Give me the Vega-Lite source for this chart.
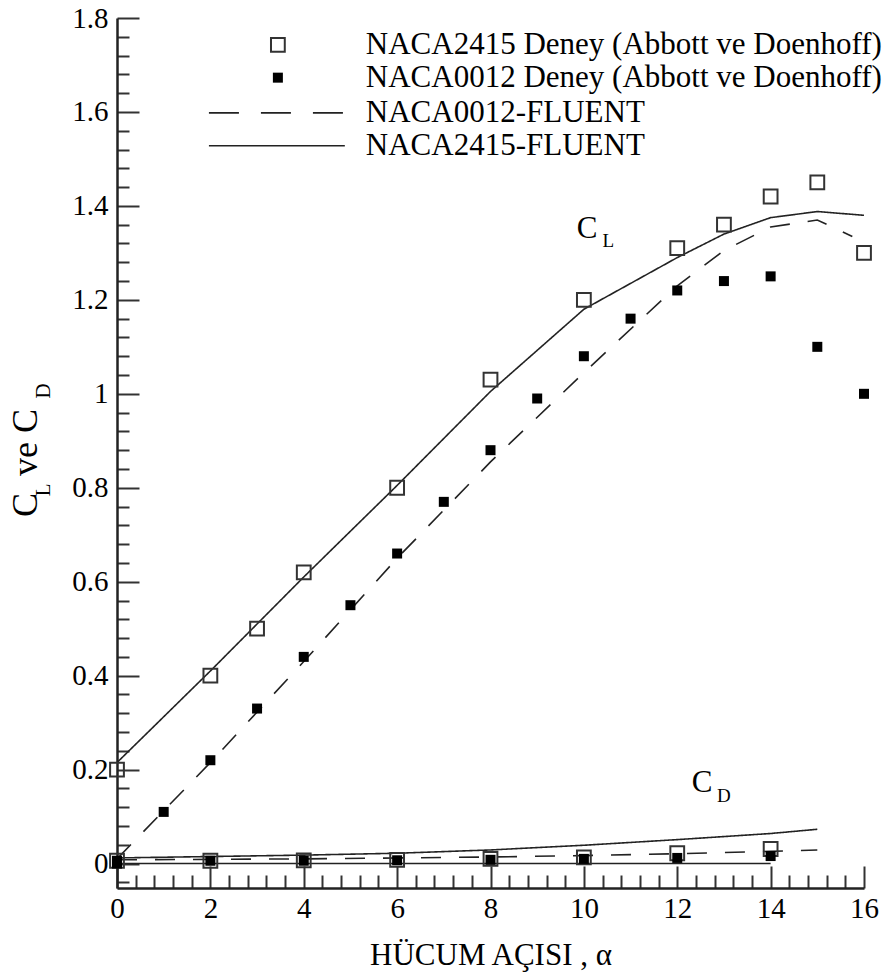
{
  "$schema": "https://vega.github.io/schema/vega-lite/v6.json",
  "width": 747,
  "height": 870,
  "autosize": {"type": "none"},
  "padding": {"left": 117, "top": 18, "right": 21, "bottom": 92},
  "background": "white",
  "config": {
    "view": {"stroke": null},
    "font": "Liberation Serif",
    "axis": {"labelFont": "Liberation Serif", "titleFont": "Liberation Serif"},
    "text": {"font": "Liberation Serif"}
  },
  "datasets": {
    "exp": [
      {"series": "NACA2415 Deney", "coef": "CL", "a": 0, "v": 0.2},
      {"series": "NACA2415 Deney", "coef": "CL", "a": 2, "v": 0.4},
      {"series": "NACA2415 Deney", "coef": "CL", "a": 3, "v": 0.5},
      {"series": "NACA2415 Deney", "coef": "CL", "a": 4, "v": 0.62},
      {"series": "NACA2415 Deney", "coef": "CL", "a": 6, "v": 0.8},
      {"series": "NACA2415 Deney", "coef": "CL", "a": 8, "v": 1.03},
      {"series": "NACA2415 Deney", "coef": "CL", "a": 10, "v": 1.2},
      {"series": "NACA2415 Deney", "coef": "CL", "a": 12, "v": 1.31},
      {"series": "NACA2415 Deney", "coef": "CL", "a": 13, "v": 1.36},
      {"series": "NACA2415 Deney", "coef": "CL", "a": 14, "v": 1.42},
      {"series": "NACA2415 Deney", "coef": "CL", "a": 15, "v": 1.45},
      {"series": "NACA2415 Deney", "coef": "CL", "a": 16, "v": 1.3},
      {"series": "NACA2415 Deney", "coef": "CD", "a": 0, "v": 0.006},
      {"series": "NACA2415 Deney", "coef": "CD", "a": 2, "v": 0.006},
      {"series": "NACA2415 Deney", "coef": "CD", "a": 4, "v": 0.007},
      {"series": "NACA2415 Deney", "coef": "CD", "a": 6, "v": 0.008},
      {"series": "NACA2415 Deney", "coef": "CD", "a": 8, "v": 0.01},
      {"series": "NACA2415 Deney", "coef": "CD", "a": 10, "v": 0.013},
      {"series": "NACA2415 Deney", "coef": "CD", "a": 12, "v": 0.022},
      {"series": "NACA2415 Deney", "coef": "CD", "a": 14, "v": 0.031},
      {"series": "NACA0012 Deney", "coef": "CL", "a": 0, "v": 0.0},
      {"series": "NACA0012 Deney", "coef": "CL", "a": 1, "v": 0.11},
      {"series": "NACA0012 Deney", "coef": "CL", "a": 2, "v": 0.22},
      {"series": "NACA0012 Deney", "coef": "CL", "a": 3, "v": 0.33},
      {"series": "NACA0012 Deney", "coef": "CL", "a": 4, "v": 0.44},
      {"series": "NACA0012 Deney", "coef": "CL", "a": 5, "v": 0.55},
      {"series": "NACA0012 Deney", "coef": "CL", "a": 6, "v": 0.66},
      {"series": "NACA0012 Deney", "coef": "CL", "a": 7, "v": 0.77},
      {"series": "NACA0012 Deney", "coef": "CL", "a": 8, "v": 0.88},
      {"series": "NACA0012 Deney", "coef": "CL", "a": 9, "v": 0.99},
      {"series": "NACA0012 Deney", "coef": "CL", "a": 10, "v": 1.08},
      {"series": "NACA0012 Deney", "coef": "CL", "a": 11, "v": 1.16},
      {"series": "NACA0012 Deney", "coef": "CL", "a": 12, "v": 1.22},
      {"series": "NACA0012 Deney", "coef": "CL", "a": 13, "v": 1.24},
      {"series": "NACA0012 Deney", "coef": "CL", "a": 14, "v": 1.25},
      {"series": "NACA0012 Deney", "coef": "CL", "a": 15, "v": 1.1},
      {"series": "NACA0012 Deney", "coef": "CL", "a": 16, "v": 1.0},
      {"series": "NACA0012 Deney", "coef": "CD", "a": 0, "v": 0.006},
      {"series": "NACA0012 Deney", "coef": "CD", "a": 2, "v": 0.006},
      {"series": "NACA0012 Deney", "coef": "CD", "a": 4, "v": 0.006},
      {"series": "NACA0012 Deney", "coef": "CD", "a": 6, "v": 0.007},
      {"series": "NACA0012 Deney", "coef": "CD", "a": 8, "v": 0.008},
      {"series": "NACA0012 Deney", "coef": "CD", "a": 10, "v": 0.01},
      {"series": "NACA0012 Deney", "coef": "CD", "a": 12, "v": 0.012},
      {"series": "NACA0012 Deney", "coef": "CD", "a": 14, "v": 0.016}
    ],
    "fluent": [
      {"series": "NACA2415-FLUENT", "coef": "CL", "a": 0, "v": 0.215},
      {"series": "NACA2415-FLUENT", "coef": "CL", "a": 2, "v": 0.41},
      {"series": "NACA2415-FLUENT", "coef": "CL", "a": 4, "v": 0.61},
      {"series": "NACA2415-FLUENT", "coef": "CL", "a": 6, "v": 0.805},
      {"series": "NACA2415-FLUENT", "coef": "CL", "a": 8, "v": 1.005},
      {"series": "NACA2415-FLUENT", "coef": "CL", "a": 10, "v": 1.18},
      {"series": "NACA2415-FLUENT", "coef": "CL", "a": 12, "v": 1.29},
      {"series": "NACA2415-FLUENT", "coef": "CL", "a": 13, "v": 1.34},
      {"series": "NACA2415-FLUENT", "coef": "CL", "a": 14, "v": 1.375},
      {"series": "NACA2415-FLUENT", "coef": "CL", "a": 15, "v": 1.388},
      {"series": "NACA2415-FLUENT", "coef": "CL", "a": 16, "v": 1.38},
      {"series": "NACA2415-FLUENT", "coef": "CD", "a": 0, "v": 0.012},
      {"series": "NACA2415-FLUENT", "coef": "CD", "a": 2, "v": 0.015},
      {"series": "NACA2415-FLUENT", "coef": "CD", "a": 4, "v": 0.018},
      {"series": "NACA2415-FLUENT", "coef": "CD", "a": 6, "v": 0.022},
      {"series": "NACA2415-FLUENT", "coef": "CD", "a": 8, "v": 0.029},
      {"series": "NACA2415-FLUENT", "coef": "CD", "a": 10, "v": 0.039},
      {"series": "NACA2415-FLUENT", "coef": "CD", "a": 12, "v": 0.051},
      {"series": "NACA2415-FLUENT", "coef": "CD", "a": 14, "v": 0.064},
      {"series": "NACA2415-FLUENT", "coef": "CD", "a": 15, "v": 0.073},
      {"series": "NACA0012-FLUENT", "coef": "CL", "a": 0, "v": 0.01},
      {"series": "NACA0012-FLUENT", "coef": "CL", "a": 2, "v": 0.215},
      {"series": "NACA0012-FLUENT", "coef": "CL", "a": 4, "v": 0.43},
      {"series": "NACA0012-FLUENT", "coef": "CL", "a": 6, "v": 0.65},
      {"series": "NACA0012-FLUENT", "coef": "CL", "a": 8, "v": 0.855},
      {"series": "NACA0012-FLUENT", "coef": "CL", "a": 10, "v": 1.045},
      {"series": "NACA0012-FLUENT", "coef": "CL", "a": 12, "v": 1.23},
      {"series": "NACA0012-FLUENT", "coef": "CL", "a": 13, "v": 1.305},
      {"series": "NACA0012-FLUENT", "coef": "CL", "a": 14, "v": 1.355},
      {"series": "NACA0012-FLUENT", "coef": "CL", "a": 15, "v": 1.37},
      {"series": "NACA0012-FLUENT", "coef": "CL", "a": 15.75, "v": 1.335},
      {"series": "NACA0012-FLUENT", "coef": "CD", "a": 0, "v": 0.008},
      {"series": "NACA0012-FLUENT", "coef": "CD", "a": 2, "v": 0.009},
      {"series": "NACA0012-FLUENT", "coef": "CD", "a": 4, "v": 0.01},
      {"series": "NACA0012-FLUENT", "coef": "CD", "a": 6, "v": 0.012},
      {"series": "NACA0012-FLUENT", "coef": "CD", "a": 8, "v": 0.014},
      {"series": "NACA0012-FLUENT", "coef": "CD", "a": 10, "v": 0.017},
      {"series": "NACA0012-FLUENT", "coef": "CD", "a": 12, "v": 0.021},
      {"series": "NACA0012-FLUENT", "coef": "CD", "a": 14, "v": 0.026},
      {"series": "NACA0012-FLUENT", "coef": "CD", "a": 15, "v": 0.029}
    ]
  },
  "resolve": {"axis": {"x": "independent", "y": "independent"}},
  "layer": [
    {
      "data": {"values": [{}]},
      "mark": {"type": "rule", "color": "#222", "strokeWidth": 1.5},
      "encoding": {
        "x": {"datum": 0, "type": "quantitative",
          "scale": {"domain": [0, 16], "nice": false, "zero": false},
          "axis": {"orient": "bottom", "values": [0.4, 0.8, 1.2, 1.6, 2.4, 2.8, 3.2, 3.6, 4.4, 4.8, 5.2, 5.6, 6.4, 6.8, 7.2, 7.6, 8.4, 8.8, 9.2, 9.6, 10.4, 10.8, 11.2, 11.6, 12.4, 12.8, 13.2, 13.6, 14.4, 14.8, 15.2, 15.6],
            "labels": false, "domain": false, "grid": false, "title": null, "tickSize": -13, "tickWidth": 2, "tickColor": "#333"}},
        "x2": {"datum": 14},
        "y": {"datum": 0, "type": "quantitative",
          "scale": {"domain": [-0.052, 1.8], "nice": false, "zero": false},
          "axis": {"orient": "left", "values": [-0.04, 0.04, 0.08, 0.12, 0.16, 0.24, 0.28, 0.32, 0.36, 0.44, 0.48, 0.52, 0.56, 0.64, 0.68, 0.72, 0.76, 0.84, 0.88, 0.92, 0.96, 1.04, 1.08, 1.12, 1.16, 1.24, 1.28, 1.32, 1.36, 1.44, 1.48, 1.52, 1.56, 1.64, 1.68, 1.72, 1.76],
            "labels": false, "domain": false, "grid": false, "title": null, "tickSize": -12, "tickWidth": 2, "tickColor": "#333"}}
      }
    },
    {
      "data": {"name": "fluent"},
      "mark": {"type": "line", "color": "#222", "strokeWidth": 1.6},
      "encoding": {
        "x": {"field": "a", "type": "quantitative",
          "axis": {"orient": "bottom", "values": [0, 2, 4, 6, 8, 10, 12, 14, 16], "format": "d",
            "grid": false, "domain": true, "domainColor": "#222", "domainWidth": 2.5,
            "ticks": true, "tickSize": -22, "tickWidth": 2, "tickColor": "#333",
            "labelFont": "Liberation Serif", "labelFontSize": 29, "labelColor": "black", "labelPadding": 28, "labelFlush": false, "labelOverlap": false,
            "title": "HÜCUM AÇISI , α", "titleFont": "Liberation Serif", "titleFontSize": 31, "titleFontWeight": "normal", "titleColor": "black", "titlePadding": 17}},
        "y": {"field": "v", "type": "quantitative",
          "axis": {"orient": "left", "values": [0, 0.2, 0.4, 0.6, 0.8, 1, 1.2, 1.4, 1.6, 1.8], "format": "~g",
            "grid": false, "domain": true, "domainColor": "#222", "domainWidth": 2.5,
            "ticks": true, "tickSize": -22, "tickWidth": 2, "tickColor": "#333",
            "labelFont": "Liberation Serif", "labelFontSize": 29, "labelColor": "black", "labelPadding": 31, "labelFlush": false, "labelOverlap": false,
            "title": null}},
        "detail": {"field": "coef"},
        "strokeDash": {"field": "series", "type": "nominal",
          "scale": {"domain": ["NACA0012-FLUENT", "NACA2415-FLUENT"], "range": [[20, 18], [1, 0]]}, "legend": null}
      }
    },
    {
      "data": {"name": "exp"},
      "transform": [{"filter": "datum.series === 'NACA2415 Deney'"}],
      "mark": {"type": "point", "shape": "square", "filled": false, "size": 190, "stroke": "#333", "strokeWidth": 2, "opacity": 1},
      "encoding": {
        "x": {"field": "a", "type": "quantitative", "axis": null},
        "y": {"field": "v", "type": "quantitative", "axis": null}
      }
    },
    {
      "data": {"name": "exp"},
      "transform": [{"filter": "datum.series === 'NACA0012 Deney'"}],
      "mark": {"type": "point", "shape": "square", "filled": true, "size": 100, "color": "black", "opacity": 1},
      "encoding": {
        "x": {"field": "a", "type": "quantitative", "axis": null},
        "y": {"field": "v", "type": "quantitative", "axis": null}
      }
    },
    {
      "data": {"values": [{}]},
      "mark": {"type": "point", "shape": "square", "filled": false, "size": 190, "stroke": "#333", "strokeWidth": 2, "opacity": 1},
      "encoding": {"x": {"datum": 3.446, "type": "quantitative", "axis": null}, "y": {"datum": 1.743, "type": "quantitative", "axis": null}}
    },
    {
      "data": {"values": [{}]},
      "mark": {"type": "point", "shape": "square", "filled": true, "size": 100, "color": "black", "opacity": 1},
      "encoding": {"x": {"datum": 3.446, "type": "quantitative", "axis": null}, "y": {"datum": 1.673, "type": "quantitative", "axis": null}}
    },
    {
      "data": {"values": [{}]},
      "mark": {"type": "rule", "color": "#222", "strokeWidth": 1.6, "strokeDash": [30, 22]},
      "encoding": {"x": {"datum": 1.969, "type": "quantitative", "axis": null}, "x2": {"datum": 4.88}, "y": {"datum": 1.598, "type": "quantitative", "axis": null}}
    },
    {
      "data": {"values": [{}]},
      "mark": {"type": "rule", "color": "#222", "strokeWidth": 1.6},
      "encoding": {"x": {"datum": 1.969, "type": "quantitative", "axis": null}, "x2": {"datum": 4.88}, "y": {"datum": 1.528, "type": "quantitative", "axis": null}}
    },
    {
      "data": {"values": [
        {"label": "NACA2415 Deney (Abbott ve Doenhoff)", "row": 1.743},
        {"label": "NACA0012 Deney (Abbott ve Doenhoff)", "row": 1.673},
        {"label": "NACA0012-FLUENT", "row": 1.598},
        {"label": "NACA2415-FLUENT", "row": 1.528}
      ]},
      "mark": {"type": "text", "font": "Liberation Serif", "fontSize": 31, "align": "left", "baseline": "middle", "color": "black"},
      "encoding": {
        "x": {"datum": 5.33, "type": "quantitative", "axis": null},
        "y": {"field": "row", "type": "quantitative", "axis": null},
        "text": {"field": "label"}
      }
    },
    {
      "data": {"values": [{}]},
      "mark": {"type": "text", "text": "C", "font": "Liberation Serif", "fontSize": 31, "align": "left", "baseline": "alphabetic", "color": "black"},
      "encoding": {"x": {"datum": 9.846, "type": "quantitative", "axis": null}, "y": {"datum": 1.332, "type": "quantitative", "axis": null}}
    },
    {
      "data": {"values": [{}]},
      "mark": {"type": "text", "text": "L", "font": "Liberation Serif", "fontSize": 19, "align": "left", "baseline": "alphabetic", "color": "black"},
      "encoding": {"x": {"datum": 10.4, "type": "quantitative", "axis": null}, "y": {"datum": 1.313, "type": "quantitative", "axis": null}}
    },
    {
      "data": {"values": [{}]},
      "mark": {"type": "text", "text": "C", "font": "Liberation Serif", "fontSize": 31, "align": "left", "baseline": "alphabetic", "color": "black"},
      "encoding": {"x": {"datum": 12.31, "type": "quantitative", "axis": null}, "y": {"datum": 0.152, "type": "quantitative", "axis": null}}
    },
    {
      "data": {"values": [{}]},
      "mark": {"type": "text", "text": "D", "font": "Liberation Serif", "fontSize": 19, "align": "left", "baseline": "alphabetic", "color": "black"},
      "encoding": {"x": {"datum": 12.85, "type": "quantitative", "axis": null}, "y": {"datum": 0.131, "type": "quantitative", "axis": null}}
    },
    {
      "data": {"values": [{}]},
      "mark": {"type": "text", "text": "C", "angle": 270, "font": "Liberation Serif", "fontSize": 36, "align": "left", "baseline": "alphabetic", "color": "black"},
      "encoding": {"x": {"datum": -1.712, "type": "quantitative", "axis": null}, "y": {"datum": 0.7375, "type": "quantitative", "axis": null}}
    },
    {
      "data": {"values": [{}]},
      "mark": {"type": "text", "text": "L", "angle": 270, "font": "Liberation Serif", "fontSize": 21, "align": "left", "baseline": "alphabetic", "color": "black"},
      "encoding": {"x": {"datum": -1.434, "type": "quantitative", "axis": null}, "y": {"datum": 0.782, "type": "quantitative", "axis": null}}
    },
    {
      "data": {"values": [{}]},
      "mark": {"type": "text", "text": "ve C", "angle": 270, "font": "Liberation Serif", "fontSize": 36, "align": "left", "baseline": "alphabetic", "color": "black"},
      "encoding": {"x": {"datum": -1.712, "type": "quantitative", "axis": null}, "y": {"datum": 0.825, "type": "quantitative", "axis": null}}
    },
    {
      "data": {"values": [{}]},
      "mark": {"type": "text", "text": "D", "angle": 270, "font": "Liberation Serif", "fontSize": 21, "align": "left", "baseline": "alphabetic", "color": "black"},
      "encoding": {"x": {"datum": -1.434, "type": "quantitative", "axis": null}, "y": {"datum": 0.99, "type": "quantitative", "axis": null}}
    }
  ]
}
